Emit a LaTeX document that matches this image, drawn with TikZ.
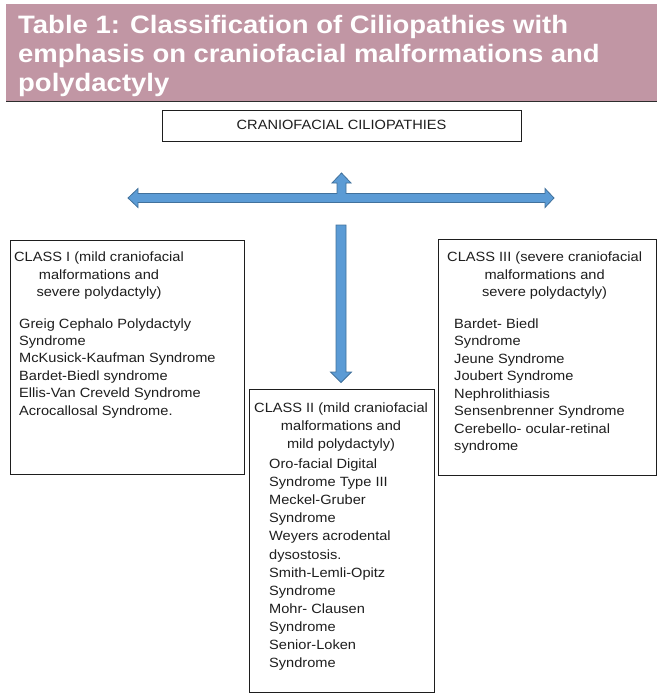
\documentclass[tikz,border=0pt]{standalone}
\usepackage{fontspec}
\setmainfont{Liberation Sans}[FakeStretch=1.09]
\definecolor{banner}{RGB}{193,150,164}
\definecolor{arrowfill}{RGB}{91,155,213}
\definecolor{arrowline}{RGB}{65,113,156}
\definecolor{txt}{RGB}{30,30,30}
\definecolor{rule}{RGB}{45,45,45}
\tikzset{
  box/.style={draw=txt, line width=1.1pt, anchor=north west, inner sep=0pt, fill=white},
  txtblock/.style={anchor=base west, inner sep=0pt, text=txt},
  blockarrow/.style={fill=arrowfill, draw=arrowline, line width=0.8pt, line join=miter},
}
\newcommand{\bodyfont}[1]{\fontsize{13.4}{#1}\selectfont}
\begin{document}
\begin{tikzpicture}[x=1pt,y=-1pt]
\useasboundingbox (0,0) rectangle (658,698);
% banner
\node[fill=banner, anchor=north west, inner sep=0pt, minimum width=651pt, minimum height=97pt] (banner) at (6,4) {};
\draw[rule, line width=1.5pt] (banner.south west) -- (banner.south east);
\node[anchor=base west, inner sep=0pt, text=white, font=\bfseries\fontsize{25.2}{29}\selectfont] (title) at (18,33.3)
  {\begin{tabular}[t]{@{}l@{}}Table 1: Classification of Ciliopathies with\\ emphasis on craniofacial malformations and\\ polydactyly\end{tabular}};
% top box
\node[box, minimum width=359pt, minimum height=31pt] (top) at (162,110) {};
\node[txtblock, anchor=base, font=\bodyfont{17.6}] (toptext) at (341.5,129.5) {CRANIOFACIAL CILIOPATHIES};
% block arrows
\coordinate (hc) at (341.5,198);
\path[blockarrow] (128,198) -- (138,188.5) -- (138,193.5) -- (337,193.5) -- (337,183) -- (332,183)
  -- (341.5,173) -- (351,183) -- (346,183) -- (346,193.5) -- (545,193.5) -- (545,188.5)
  -- (554,198) -- (545,207.5) -- (545,202.5) -- (138,202.5) -- (138,207.5) -- cycle;
\path[blockarrow] (336,225) -- (346,225) -- (346,372) -- (351.5,372) -- (341,382.5) -- (330.5,372) -- (336,372) -- cycle;
% class boxes
\node[box, minimum width=234pt, minimum height=234pt] (c1) at (10,240) {};
\node[box, minimum width=185pt, minimum height=303pt] (c2) at (249,389) {};
\node[box, minimum width=218pt, minimum height=236pt] (c3) at (438,239) {};
% class I
\node[txtblock, font=\bodyfont{17.6}] (c1h) at (14,261.5)
  {\begin{tabular}[t]{@{}c@{}}CLASS I (mild craniofacial\\ malformations and\\ severe polydactyly)\end{tabular}};
\node[txtblock, font=\bodyfont{17.4}] (c1l) at (19,328)
  {\begin{tabular}[t]{@{}l@{}}Greig Cephalo Polydactyly\\ Syndrome\\ McKusick-Kaufman Syndrome\\ Bardet-Biedl syndrome\\ Ellis-Van Creveld Syndrome\\ Acrocallosal Syndrome.\end{tabular}};
% class III
\node[txtblock, font=\bodyfont{17.6}] (c3h) at (447,261.5)
  {\begin{tabular}[t]{@{}c@{}}CLASS III (severe craniofacial\\ malformations and\\ severe polydactyly)\end{tabular}};
\node[txtblock, font=\bodyfont{17.5}] (c3l) at (454,328)
  {\begin{tabular}[t]{@{}l@{}}Bardet- Biedl\\ Syndrome\\ Jeune Syndrome\\ Joubert Syndrome\\ Nephrolithiasis\\ Sensenbrenner Syndrome\\ Cerebello- ocular-retinal\\ syndrome\end{tabular}};
% class II
\node[txtblock, font=\bodyfont{18}] (c2h) at (254,412.5)
  {\begin{tabular}[t]{@{}c@{}}CLASS II (mild craniofacial\\ malformations and\\ mild polydactyly)\end{tabular}};
\node[txtblock, font=\bodyfont{18.1}] (c2l) at (269,468.5)
  {\begin{tabular}[t]{@{}l@{}}Oro-facial Digital\\ Syndrome Type III\\ Meckel-Gruber\\ Syndrome\\ Weyers acrodental\\ dysostosis.\\ Smith-Lemli-Opitz\\ Syndrome\\ Mohr- Clausen\\ Syndrome\\ Senior-Loken\\ Syndrome\end{tabular}};
\end{tikzpicture}
\end{document}
